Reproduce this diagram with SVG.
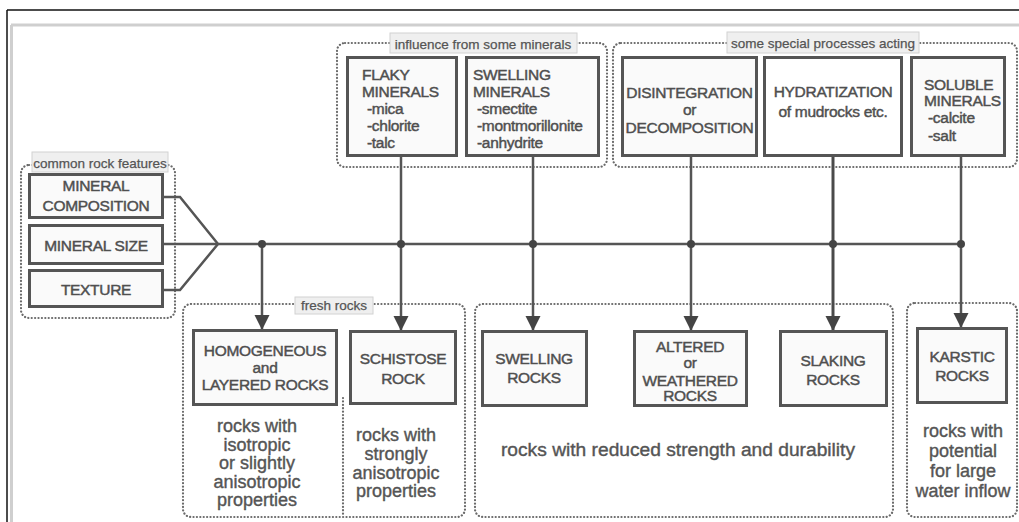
<svg xmlns="http://www.w3.org/2000/svg" width="1019" height="522" viewBox="0 0 1019 522">
<style>
.page{stroke:#111;stroke-width:1.5;fill:none}
.frame{stroke:#cfcfcf;stroke-width:3;fill:none}
.grp{fill:none;stroke:#6a6a6a;stroke-width:2.2;stroke-dasharray:0.1 3.3;stroke-linecap:round}
.lblbox{fill:#efefef;stroke:#d2d2d2;stroke-width:1}
.lbl{font-family:"Liberation Sans",Arial,sans-serif;font-size:13.5px;fill:#555;stroke:#555;stroke-width:0.25;text-anchor:middle}
.box{fill:#fafafa;stroke:#555;stroke-width:3}
.bt{font-family:"Liberation Sans",Arial,sans-serif;font-size:15.5px;fill:#4f4f4f;stroke:#4f4f4f;stroke-width:0.45;letter-spacing:-0.3px}
.c{text-anchor:middle}
.desc{font-family:"Liberation Sans",Arial,sans-serif;font-size:18px;fill:#555;stroke:#555;stroke-width:0.4;text-anchor:middle}
.ln{fill:none;stroke:#555;stroke-width:2.5}
.dot{fill:#444}
</style>
<defs>
<marker id="ah" markerUnits="userSpaceOnUse" markerWidth="16" markerHeight="16" refX="15" refY="7.5" orient="auto">
<path d="M0,0 L15,7.5 L0,15 z" fill="#444"/>
</marker>
</defs>

<g id="page">
<line class="page" x1="7" y1="10" x2="1019" y2="10"/>
<line class="page" x1="7" y1="10" x2="7" y2="522"/>
<line class="frame" x1="11" y1="25" x2="1019" y2="25"/>
<line class="frame" x1="11.5" y1="25" x2="11.5" y2="522"/>
</g>

<g id="groups">
<g id="grp-common">
<rect class="grp" x="21" y="165" width="154" height="153" rx="8"/>
<rect class="lblbox" x="32" y="152" width="136" height="20"/>
<text class="lbl" x="100" y="168">common rock features</text>
</g>
<g id="grp-influence">
<rect class="grp" x="337" y="43" width="270" height="124" rx="8"/>
<rect class="lblbox" x="390" y="33" width="187" height="20"/>
<text class="lbl" x="483" y="49">influence from some minerals</text>
</g>
<g id="grp-special">
<rect class="grp" x="613" y="43" width="404" height="124" rx="8"/>
<rect class="lblbox" x="727" y="32" width="192" height="21"/>
<text class="lbl" x="823" y="48">some special processes acting</text>
</g>
<g id="grp-fresh">
<rect class="grp" x="183" y="304" width="282" height="213" rx="8"/>
<line class="grp" x1="343" y1="398" x2="343" y2="516"/>
<rect class="lblbox" x="295" y="297" width="78" height="17"/>
<text class="lbl" x="334" y="310">fresh rocks</text>
</g>
<g id="grp-reduced">
<rect class="grp" x="475" y="304" width="418" height="213" rx="8"/>
</g>
<g id="grp-karstic">
<rect class="grp" x="907" y="303" width="110" height="214" rx="8"/>
</g>
</g>

<g id="connectors">
<polyline class="ln" points="163,197 180,197 218,244"/>
<polyline class="ln" points="163,290 180,290 218,244"/>
<line class="ln" x1="163" y1="244" x2="962" y2="244"/>
<line class="ln" x1="262" y1="244" x2="262" y2="330" marker-end="url(#ah)"/>
<line class="ln" x1="401" y1="156" x2="401" y2="331" marker-end="url(#ah)"/>
<line class="ln" x1="533" y1="156" x2="533" y2="331" marker-end="url(#ah)"/>
<line class="ln" x1="691" y1="156" x2="691" y2="331" marker-end="url(#ah)"/>
<line class="ln" x1="833" y1="156" x2="833" y2="331" marker-end="url(#ah)" style="stroke-width:3;stroke:#4a4a4a"/>
<line class="ln" x1="961" y1="156" x2="961" y2="328" marker-end="url(#ah)"/>
<circle class="dot" cx="262" cy="244" r="4"/>
<circle class="dot" cx="401" cy="244" r="4"/>
<circle class="dot" cx="533" cy="244" r="4"/>
<circle class="dot" cx="691" cy="244" r="4"/>
<circle class="dot" cx="833" cy="244" r="4"/>
<circle class="dot" cx="961" cy="244" r="4"/>
</g>

<g id="mineral-composition">
<rect class="box" x="29.5" y="174.5" width="133" height="43"/>
<text class="bt c" x="96" y="191">MINERAL</text>
<text class="bt c" x="96" y="211">COMPOSITION</text>
</g>
<g id="mineral-size">
<rect class="box" x="29.5" y="225.5" width="133" height="38"/>
<text class="bt c" x="96" y="251">MINERAL SIZE</text>
</g>
<g id="texture">
<rect class="box" x="29.5" y="270.5" width="133" height="36"/>
<text class="bt c" x="96" y="295">TEXTURE</text>
</g>

<g id="flaky-minerals">
<rect class="box" x="347.5" y="57.5" width="109" height="98"/>
<text class="bt" x="362" y="80">FLAKY</text>
<text class="bt" x="362" y="97">MINERALS</text>
<text class="bt" x="367" y="114">-mica</text>
<text class="bt" x="367" y="131">-chlorite</text>
<text class="bt" x="367" y="148">-talc</text>
</g>
<g id="swelling-minerals">
<rect class="box" x="466.5" y="57.5" width="132" height="98"/>
<text class="bt" x="473" y="80">SWELLING</text>
<text class="bt" x="473" y="97">MINERALS</text>
<text class="bt" x="477" y="114">-smectite</text>
<text class="bt" x="477" y="131">-montmorillonite</text>
<text class="bt" x="477" y="148">-anhydrite</text>
</g>
<g id="disintegration">
<rect class="box" x="622.5" y="57.5" width="134" height="98"/>
<text class="bt c" x="689.5" y="98">DISINTEGRATION</text>
<text class="bt c" x="689.5" y="115">or</text>
<text class="bt c" x="689.5" y="133">DECOMPOSITION</text>
</g>
<g id="hydratization">
<rect class="box" x="764.5" y="57.5" width="137" height="98" style="fill:#fff"/>
<text class="bt c" x="833" y="97">HYDRATIZATION</text>
<text class="bt c" x="833" y="117">of mudrocks etc.</text>
</g>
<g id="soluble-minerals">
<rect class="box" x="911.5" y="57.5" width="93" height="98"/>
<text class="bt" x="924" y="90">SOLUBLE</text>
<text class="bt" x="924" y="106">MINERALS</text>
<text class="bt" x="928" y="123">-calcite</text>
<text class="bt" x="928" y="141">-salt</text>
</g>

<g id="homogeneous">
<rect class="box" x="193.5" y="330.5" width="143" height="74"/>
<text class="bt c" x="265" y="356">HOMOGENEOUS</text>
<text class="bt c" x="265" y="373">and</text>
<text class="bt c" x="265" y="390">LAYERED ROCKS</text>
</g>
<g id="schistose">
<rect class="box" x="350.5" y="331.5" width="105" height="72"/>
<text class="bt c" x="403" y="364">SCHISTOSE</text>
<text class="bt c" x="403" y="384">ROCK</text>
</g>
<g id="swelling-rocks">
<rect class="box" x="482.5" y="331.5" width="104" height="74"/>
<text class="bt c" x="534" y="364">SWELLING</text>
<text class="bt c" x="534" y="383">ROCKS</text>
</g>
<g id="altered">
<rect class="box" x="634.5" y="331.5" width="112" height="74"/>
<text class="bt c" x="690" y="352">ALTERED</text>
<text class="bt c" x="690" y="368">or</text>
<text class="bt c" x="690" y="386">WEATHERED</text>
<text class="bt c" x="690" y="401">ROCKS</text>
</g>
<g id="slaking">
<rect class="box" x="780.5" y="331.5" width="106" height="74"/>
<text class="bt c" x="833" y="366">SLAKING</text>
<text class="bt c" x="833" y="385">ROCKS</text>
</g>
<g id="karstic">
<rect class="box" x="917.5" y="328.5" width="89" height="74"/>
<text class="bt c" x="962" y="362">KARSTIC</text>
<text class="bt c" x="962" y="381">ROCKS</text>
</g>

<g id="descriptions">
<text class="desc" x="257" y="432">rocks with</text>
<text class="desc" x="257" y="450.5">isotropic</text>
<text class="desc" x="257" y="469">or slightly</text>
<text class="desc" x="257" y="487.5">anisotropic</text>
<text class="desc" x="257" y="506">properties</text>
<text class="desc" x="396" y="441">rocks with</text>
<text class="desc" x="396" y="460">strongly</text>
<text class="desc" x="396" y="478.5">anisotropic</text>
<text class="desc" x="396" y="497">properties</text>
<text class="desc" x="678" y="456" style="font-size:19.2px">rocks with reduced strength and durability</text>
<text class="desc" x="963" y="437">rocks with</text>
<text class="desc" x="963" y="457">potential</text>
<text class="desc" x="963" y="477">for large</text>
<text class="desc" x="963" y="497">water inflow</text>
</g>
</svg>
